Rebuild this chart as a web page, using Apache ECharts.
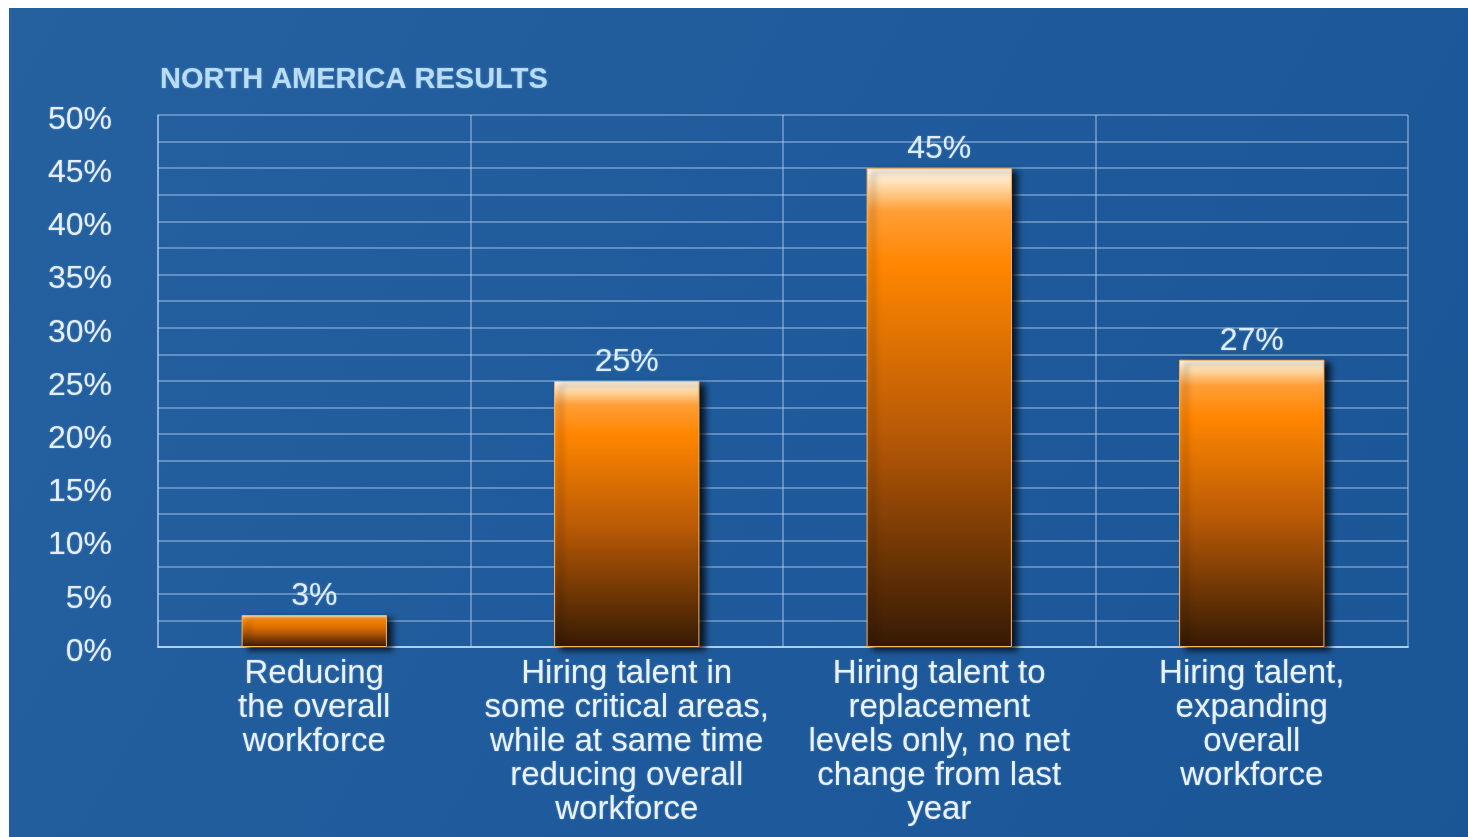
<!DOCTYPE html>
<html>
<head>
<meta charset="utf-8">
<title>North America Results</title>
<script src="https://cdn.jsdelivr.net/npm/echarts@6/dist/echarts.min.js"></script>
<style>
  html, body { margin: 0; padding: 0; background: #ffffff; }
  #chart { position: absolute; left: 9px; top: 8px; width: 1459px; height: 829px; }
</style>
</head>
<body>
<div id="chart"></div>
<script>
// Survey answers and their shares (percent of respondents)
var categories = [
  'Reducing\nthe overall\nworkforce',
  'Hiring talent in\nsome critical areas,\nwhile at same time\nreducing overall\nworkforce',
  'Hiring talent to\nreplacement\nlevels only, no net\nchange from last\nyear',
  'Hiring talent,\nexpanding\noverall\nworkforce'
];
var shares = [3, 25, 45, 27];
var chartTitle = 'NORTH AMERICA RESULTS';
var yMin = 0, yMax = 50, yStep = 5;

var FONT = '"Liberation Sans", Arial, sans-serif';
var gridColor = 'rgba(190, 215, 245, 0.55)';
var glow = { textShadowColor: 'rgba(190, 225, 255, 0.45)', textShadowBlur: 2 };

var chart = echarts.init(document.getElementById('chart'));

var barFill = new echarts.graphic.LinearGradient(0, 0, 0, 1, [
  { offset: 0.00, color: '#fffaf0' },
  { offset: 0.03, color: '#ffe2b8' },
  { offset: 0.09, color: '#ff9e36' },
  { offset: 0.20, color: '#ff8600' },
  { offset: 0.55, color: '#b95a06' },
  { offset: 1.00, color: '#351a04' }
]);

chart.setOption({
  backgroundColor: new echarts.graphic.LinearGradient(0, 0, 1, 1, [
    { offset: 0, color: '#25609f' },
    { offset: 0.5, color: '#1f5b9c' },
    { offset: 1, color: '#1a5596' }
  ]),
  title: {
    text: chartTitle,
    left: 151,
    top: 57,
    padding: 0,
    textStyle: Object.assign({
      fontFamily: FONT,
      fontWeight: 'bold',
      fontSize: 29,
      color: '#b9ddf6'
    }, glow)
  },
  grid: { left: 149, top: 107, right: 60, bottom: 190, containLabel: false },
  xAxis: {
    type: 'category',
    data: categories,
    boundaryGap: true,
    axisLine: { show: true, lineStyle: { color: 'rgba(200, 222, 248, 0.8)', width: 2 } },
    axisTick: { show: false },
    splitLine: { show: true, interval: 0, lineStyle: { color: gridColor, width: 1.5 } },
    axisLabel: Object.assign({
      interval: 0,
      margin: 10,
      fontFamily: FONT,
      fontSize: 33,
      lineHeight: 34,
      color: '#eaf2fb',
      align: 'center',
      verticalAlign: 'top'
    }, glow)
  },
  yAxis: {
    type: 'value',
    min: yMin,
    max: yMax,
    interval: yStep,
    axisLine: { show: true, lineStyle: { color: gridColor, width: 1.5 } },
    axisTick: { show: false },
    axisLabel: Object.assign({
      formatter: function (v) { return '{v|' + v + '%}'; },
      margin: 46,
      fontFamily: FONT,
      fontSize: 32,
      color: '#e6eff9',
      rich: {
        v: {
          fontFamily: FONT,
          fontSize: 32,
          color: '#e6eff9',
          padding: [10, 0, 0, 0]
        }
      }
    }, glow),
    splitLine: { show: true, lineStyle: { color: gridColor, width: 1.5 } },
    minorTick: { show: false, splitNumber: 2 },
    minorSplitLine: { show: true, lineStyle: { color: gridColor, width: 1.5 } }
  },
  series: [{
    type: 'bar',
    data: shares,
    barWidth: '46.5%',
    itemStyle: {
      color: barFill,
      borderColor: '#ffb35c',
      borderWidth: 1,
      shadowColor: 'rgba(0, 0, 0, 0.75)',
      shadowBlur: 6,
      shadowOffsetX: 6,
      shadowOffsetY: 3
    },
    label: Object.assign({
      show: true,
      position: 'top',
      distance: 3,
      formatter: '{c}%',
      fontFamily: FONT,
      fontSize: 32,
      color: '#dfedf9'
    }, glow)
  }]
});
</script>
</body>
</html>
